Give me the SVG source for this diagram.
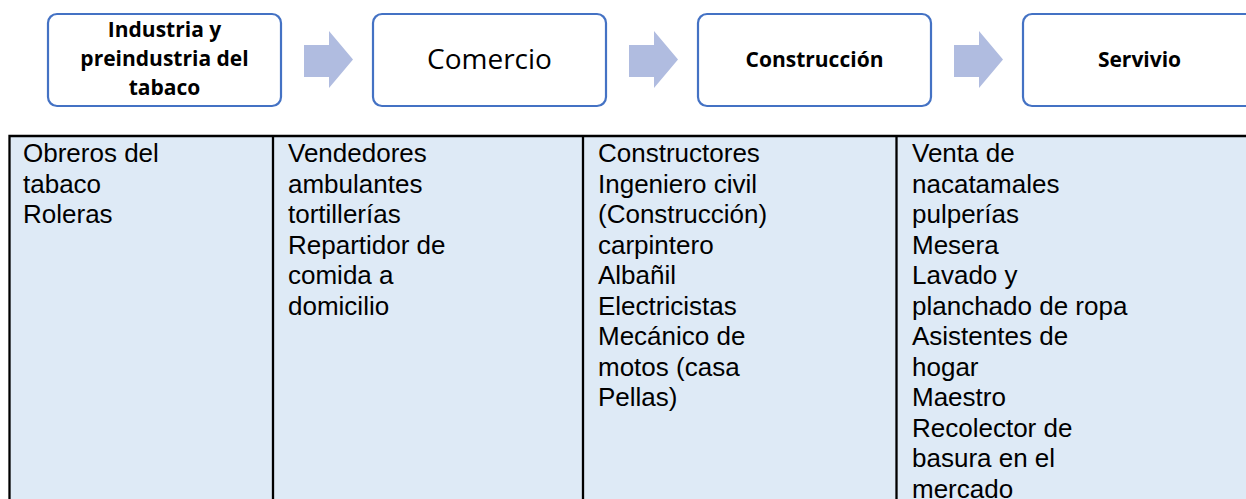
<svg xmlns="http://www.w3.org/2000/svg" width="1246" height="499" viewBox="0 0 1246 499">
<style>
.box{fill:#fff;stroke:#4472C4;stroke-width:2.2}
.arrow{fill:#B0BCE0}
.bt{font-family:"Open Sans","Liberation Sans",sans-serif;font-weight:bold;font-size:21px;fill:#000;text-anchor:middle}
.rt{font-family:"Open Sans","Liberation Sans",sans-serif;font-size:28px;fill:#000;text-anchor:middle}
.tt{font-family:"Liberation Sans",Arial,sans-serif;font-size:26px;fill:#000}
.grid{stroke:#000;stroke-width:2.3;fill:none}
</style>
<defs>
<path id="arr" class="arrow" d="M0,14 H25 V0 L49,28.5 L25,57 V46 H0 Z"/>
</defs>
<rect width="1246" height="499" fill="#fff"/>
<g id="connectors">
<use href="#arr" x="304" y="31"/>
<use href="#arr" x="629" y="31"/>
<use href="#arr" x="954" y="31"/>
</g>
<g id="node-industria">
<rect class="box" x="48" y="14" width="233" height="92" rx="9"/>
<text class="bt" x="164.5" y="37">Industria y</text>
<text class="bt" x="164.5" y="66">preindustria del</text>
<text class="bt" x="164.5" y="95">tabaco</text>
</g>
<g id="node-comercio">
<rect class="box" x="373" y="14" width="233" height="92" rx="9"/>
<text class="rt" x="489.5" y="69">Comercio</text>
</g>
<g id="node-construccion">
<rect class="box" x="698" y="14" width="233" height="92" rx="9"/>
<text class="bt" x="814.5" y="67">Construcción</text>
</g>
<g id="node-servivio">
<rect class="box" x="1023" y="14" width="233" height="92" rx="9"/>
<text class="bt" x="1139.5" y="67">Servivio</text>
</g>
<g id="table">
<rect x="9" y="136" width="1240" height="370" fill="#DEEAF6"/>
<path class="grid" d="M1250,136 H9.5 V505 M273,136 V505 M583,136 V505 M896.5,136 V505"/>
<g class="tt">
<text x="23" y="162">Obreros del</text>
<text x="23" y="192.5">tabaco</text>
<text x="23" y="223">Roleras</text>
</g>
<g class="tt">
<text x="288" y="162">Vendedores</text>
<text x="288" y="192.5">ambulantes</text>
<text x="288" y="223">tortillerías</text>
<text x="288" y="253.5">Repartidor de</text>
<text x="288" y="284">comida a</text>
<text x="288" y="314.5">domicilio</text>
</g>
<g class="tt">
<text x="598" y="162">Constructores</text>
<text x="598" y="192.5">Ingeniero civil</text>
<text x="598" y="223">(Construcción)</text>
<text x="598" y="253.5">carpintero</text>
<text x="598" y="284">Albañil</text>
<text x="598" y="314.5">Electricistas</text>
<text x="598" y="345">Mecánico de</text>
<text x="598" y="375.5">motos (casa</text>
<text x="598" y="406">Pellas)</text>
</g>
<g class="tt">
<text x="912" y="162">Venta de</text>
<text x="912" y="192.5">nacatamales</text>
<text x="912" y="223">pulperías</text>
<text x="912" y="253.5">Mesera</text>
<text x="912" y="284">Lavado y</text>
<text x="912" y="314.5">planchado de ropa</text>
<text x="912" y="345">Asistentes de</text>
<text x="912" y="375.5">hogar</text>
<text x="912" y="406">Maestro</text>
<text x="912" y="436.5">Recolector de</text>
<text x="912" y="467">basura en el</text>
<text x="912" y="497.5">mercado</text>
</g>
</g>
</svg>
